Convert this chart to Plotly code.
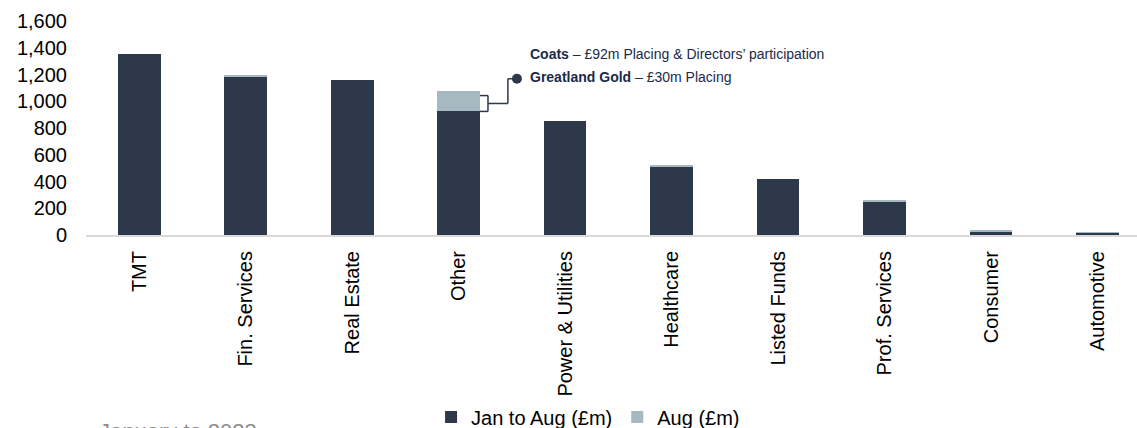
import plotly.graph_objects as go

# Sector totals raised (£m)
sectors = ["TMT", "Fin. Services", "Real Estate", "Other", "Power & Utilities",
           "Healthcare", "Listed Funds", "Prof. Services", "Consumer", "Automotive"]
jan_to_aug = [1355, 1184, 1160, 924, 855, 512, 420, 247, 25, 18]
aug = [0, 8, 0, 150, 0, 13, 0, 8, 5, 3]

y_ticks = [0, 200, 400, 600, 800, 1000, 1200, 1400, 1600]

callout_lines = [
    "<b>Coats</b> – £92m Placing & Directors’ participation",
    "<b>Greatland Gold</b> – £30m Placing",
]
footer_text = "January to 2023"

DARK = "#2E384B"
LIGHT = "#A6B9C1"
NAVY = "#1B2A4A"
FONT = "Arial, 'Liberation Sans', sans-serif"

fig = go.Figure()
fig.add_trace(go.Bar(name="Jan to Aug (£m)", x=sectors, y=jan_to_aug,
                     marker=dict(color=DARK, line=dict(width=0)), width=0.4))
fig.add_trace(go.Bar(name="Aug (£m)", x=sectors, y=aug,
                     marker=dict(color=LIGHT, line=dict(width=0)), width=0.4))

# Callout bracket on the "Other" bar
i = sectors.index("Other")
base = jan_to_aug[i]
top = base + aug[i]
b_top = base + 0.79 * aug[i]
b_mid = (base + b_top) / 2
edge = i + 0.2
bx = i + 0.275
ex = i + 0.462
dx = i + 0.547
line_y2 = 1184
dot_y = 1168
line_style = dict(color=DARK, width=1.5)
for x0, y0, x1, y1 in [
    (edge, b_top, bx, b_top),
    (bx, b_top, bx, base),
    (bx, base, edge, base),
    (bx, b_mid, ex, b_mid),
    (ex, b_mid, ex, dot_y),
    (ex, dot_y, dx, dot_y),
]:
    fig.add_shape(type="line", xref="x", yref="y", x0=x0, y0=y0, x1=x1, y1=y1,
                  line=line_style)
fig.add_shape(type="circle", xref="x", yref="y", xsizemode="pixel", ysizemode="pixel",
              xanchor=dx, yanchor=dot_y, x0=-5, x1=5, y0=-5, y1=5,
              fillcolor=DARK, line=dict(color=DARK, width=0))

for text, yv in zip(callout_lines, [1357, line_y2]):
    fig.add_annotation(x=i + 0.65, y=yv, xref="x", yref="y", text=text,
                       showarrow=False, xanchor="left", yanchor="middle",
                       font=dict(family=FONT, size=14, color=NAVY))

fig.add_annotation(x=0.0105, y=-0.850, xref="paper", yref="paper", text=footer_text,
                   showarrow=False, xanchor="left", yanchor="top",
                   font=dict(family=FONT, size=22, color="#8C8C8C"))

fig.update_layout(
    width=1137, height=428,
    margin=dict(l=86, r=0, t=21, b=193, autoexpand=False),
    barmode="stack",
    plot_bgcolor="white", paper_bgcolor="white",
    font=dict(family=FONT, size=20, color="#000000"),
    showlegend=True,
    legend=dict(orientation="h", x=0.4777, xanchor="center", y=-0.850, yanchor="middle",
                font=dict(family=FONT, size=20, color="#000000"),
                bgcolor="rgba(0,0,0,0)", itemwidth=30, traceorder="normal"),
)
fig.update_xaxes(range=[-0.5, 9.37], showline=True, linecolor="#D9D9D9", linewidth=2,
                 showgrid=False, zeroline=False, tickangle=-90, ticks="", automargin=False,
                 ticklabelstandoff=6, tickfont=dict(family=FONT, size=20, color="#000000"))
fig.update_yaxes(range=[0, 1600], tickvals=y_ticks, ticktext=[f"{v:,}" for v in y_ticks],
                 showgrid=False, zeroline=False, showline=False, ticks="", automargin=False,
                 ticklabelstandoff=18, tickfont=dict(family=FONT, size=20, color="#000000"))

fig.write_html("out.html")
